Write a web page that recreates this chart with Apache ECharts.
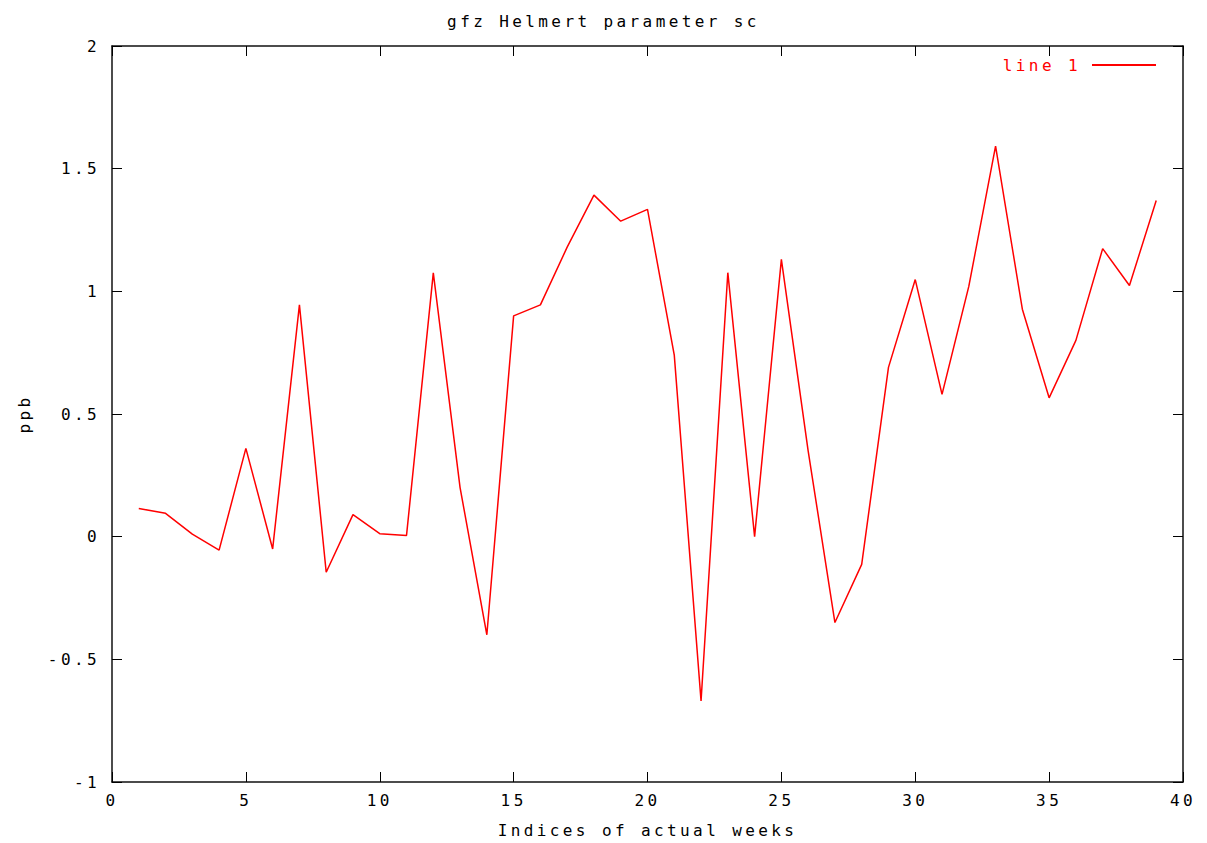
<!DOCTYPE html>
<html>
<head>
<meta charset="utf-8">
<script src="https://cdn.jsdelivr.net/npm/echarts@6/dist/echarts.min.js"></script>
<style>
html,body{margin:0;padding:0;background:#fff;}
#chart{width:1207px;height:843px;}
#chart text{letter-spacing:3.4px;}
</style>
</head>
<body>
<div id="chart"></div>
<script>
var weeks = [1,2,3,4,5,6,7,8,9,10,11,12,13,14,15,16,17,18,19,20,21,22,23,24,25,26,27,28,29,30,31,32,33,34,35,36,37,38,39];
var scValues = [0.115,0.095,0.01,-0.055,0.36,-0.05,0.945,-0.145,0.09,0.012,0.005,1.075,0.2,-0.4,0.9,0.945,1.18,1.392,1.286,1.334,0.74,-0.67,1.076,0.0,1.13,0.35,-0.35,-0.113,0.69,1.048,0.58,1.02,1.592,0.927,0.566,0.8,1.174,1.024,1.37];
var xTicks = {min: 0, max: 40, interval: 5};
var yTicks = {min: -1, max: 2, interval: 0.5};
var titleText = 'gfz Helmert parameter sc';
var xName = 'Indices of actual weeks';
var yName = 'ppb';
var seriesName = 'line 1';

var font = 'DejaVu Sans Mono';
var fs = 16;
var fw = 'normal';
var pts = weeks.map(function(w, i){ return [w, scValues[i]]; });

var chart = echarts.init(document.getElementById('chart'), null, {renderer: 'svg'});
var tickCommon = {show: true, inside: true, length: 10, lineStyle: {color: '#000', width: 1}};
var axisLineStyle = {show: true, onZero: false, lineStyle: {color: '#111', width: 1.5}};
chart.setOption({
  animation: false,
  backgroundColor: '#fff',
  title: {
    text: titleText, left: 'center', top: 8,
    textStyle: {fontFamily: font, fontSize: fs, fontWeight: fw, color: '#000'}
  },
  legend: {
    right: 46, top: 52, align: 'right',
    itemWidth: 64, itemHeight: 2, icon: 'rect',
    textStyle: {fontFamily: font, fontSize: fs, fontWeight: fw, color: '#ff0000', padding: [0, 6, 0, 0]},
    data: [{name: seriesName}]
  },
  grid: {left: 112, right: 24, top: 46, bottom: 51, containLabel: false},
  xAxis: [{
    type: 'value', min: xTicks.min, max: xTicks.max, interval: xTicks.interval,
    position: 'bottom',
    name: xName, nameLocation: 'middle', nameGap: 40,
    nameTextStyle: {fontFamily: font, fontSize: fs, fontWeight: fw, color: '#000'},
    axisLine: axisLineStyle,
    axisTick: tickCommon,
    axisLabel: {fontFamily: font, fontSize: fs, fontWeight: fw, color: '#000', margin: 10},
    splitLine: {show: false}
  }, {
    type: 'value', min: xTicks.min, max: xTicks.max, interval: xTicks.interval,
    position: 'top',
    axisLine: axisLineStyle,
    axisTick: tickCommon,
    axisLabel: {show: false},
    splitLine: {show: false}
  }],
  yAxis: [{
    type: 'value', min: yTicks.min, max: yTicks.max, interval: yTicks.interval,
    position: 'left',
    name: yName, nameLocation: 'middle', nameGap: 80, nameRotate: 90,
    nameTextStyle: {fontFamily: font, fontSize: fs, fontWeight: fw, color: '#000'},
    axisLine: axisLineStyle,
    axisTick: tickCommon,
    axisLabel: {fontFamily: font, fontSize: fs, fontWeight: fw, color: '#000', margin: 12},
    splitLine: {show: false}
  }, {
    type: 'value', min: yTicks.min, max: yTicks.max, interval: yTicks.interval,
    position: 'right',
    axisLine: axisLineStyle,
    axisTick: tickCommon,
    axisLabel: {show: false},
    splitLine: {show: false}
  }],
  series: [{
    name: seriesName, type: 'line', data: pts,
    xAxisIndex: 0, yAxisIndex: 0,
    symbol: 'none', color: '#ff0000',
    lineStyle: {color: '#ff0000', width: 1.5}
  }]
});
</script>
</body>
</html>
